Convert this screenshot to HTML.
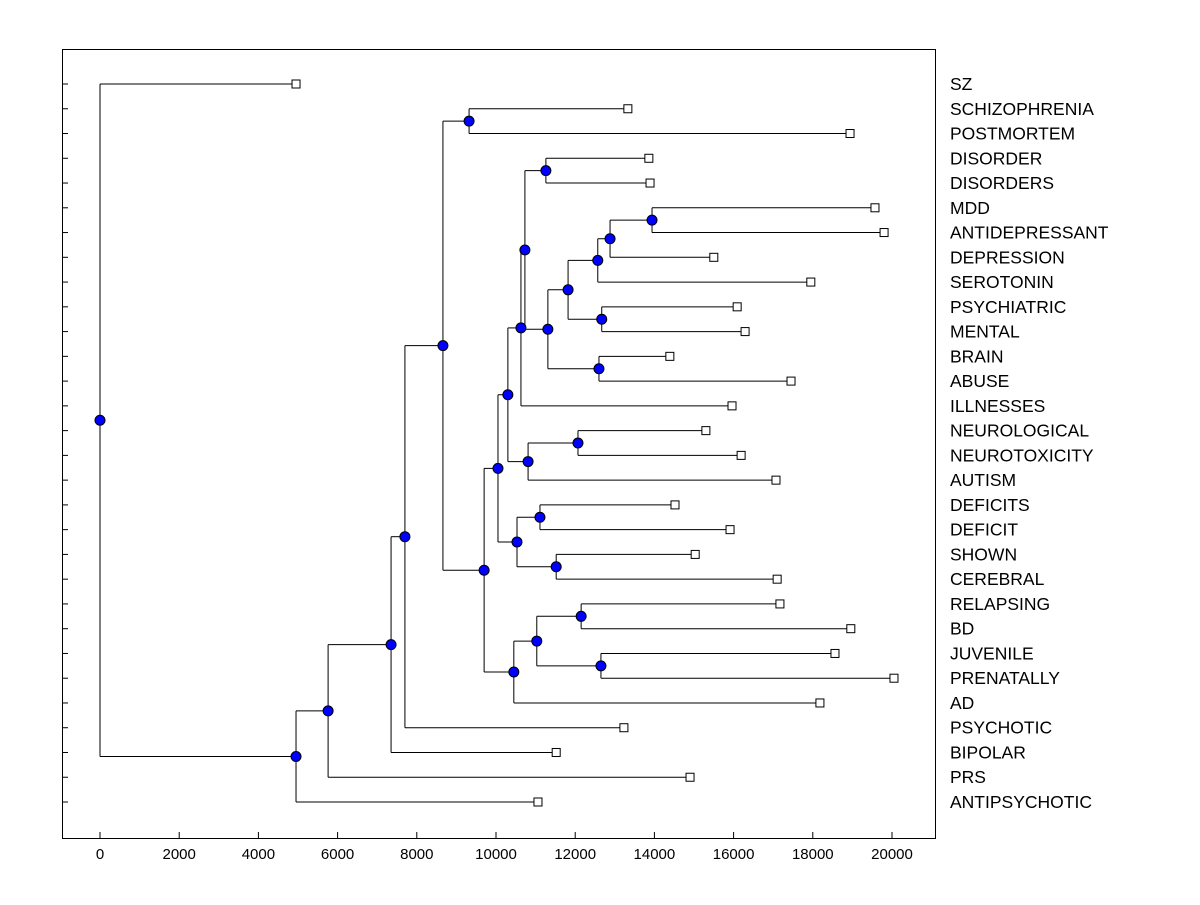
<!DOCTYPE html>
<html><head><meta charset="utf-8"><style>
body{margin:0;background:#fff}
svg text{font-family:"Liberation Sans",Arial,sans-serif}
</style></head><body>
<svg id="chart" width="1200" height="900" viewBox="0 0 1200 900" xmlns="http://www.w3.org/2000/svg">
<rect x="0" y="0" width="1200" height="900" fill="#fff"/>
<rect x="62.5" y="49.5" width="873" height="789" fill="none" stroke="#000"/>
<g id="g"></g>
</svg>
<script>
const leafNames=["SZ","SCHIZOPHRENIA","POSTMORTEM","DISORDER","DISORDERS","MDD","ANTIDEPRESSANT","DEPRESSION","SEROTONIN","PSYCHIATRIC","MENTAL","BRAIN","ABUSE","ILLNESSES","NEUROLOGICAL","NEUROTOXICITY","AUTISM","DEFICITS","DEFICIT","SHOWN","CEREBRAL","RELAPSING","BD","JUVENILE","PRENATALLY","AD","PSYCHOTIC","BIPOLAR","PRS","ANTIPSYCHOTIC"];
const leafValues=[4950,13330,18940,13860,13890,19570,19800,15500,17950,16090,16290,14390,17450,15960,15300,16190,17070,14520,15910,15030,17100,17170,18960,18560,20050,18180,13230,11520,14900,11060];
// merges: [name, childA, childB, height]
const mergeNames=["BB","AA","Y","Z","W","X","V","U","T","Q","S","R","M","O","P","N","H","K","L","J","I","G","F","E","D","C","B","A","root"];
const mergeA=["MDD","BB","AA","PSYCHIATRIC","Y","BRAIN","W","DISORDER","U","T","NEUROLOGICAL","S","Q","DEFICITS","SHOWN","O","M","RELAPSING","JUVENILE","K","AD","H","SCHIZOPHRENIA","F","PSYCHOTIC","BIPOLAR","PRS","ANTIPSYCHOTIC","SZ"];
const mergeB=["ANTIDEPRESSANT","DEPRESSION","SEROTONIN","MENTAL","Z","ABUSE","X","DISORDERS","V","ILLNESSES","NEUROTOXICITY","AUTISM","R","DEFICIT","CEREBRAL","P","N","BD","PRENATALLY","L","J","I","POSTMORTEM","G","E","D","C","B","A"];
const mergeHeights=[13940,12880,12570,12670,11820,12600,11310,11260,10730,10630,12070,10810,10300,11110,11520,10530,10050,12150,12650,11030,10450,9700,9320,8660,7700,7350,5760,4950,0];
const xTicks=[0,2000,4000,6000,8000,10000,12000,14000,16000,18000,20000];

const NS="http://www.w3.org/2000/svg";
const g=document.getElementById('g');
const xs=v=>100+v*0.0396;
const ys=i=>84+i*(718/(leafNames.length-1));
function el(t,a){const e=document.createElementNS(NS,t);for(const k in a)e.setAttribute(k,a[k]);g.appendChild(e);return e;}
const pos={};
leafNames.forEach((n,i)=>{pos[n]={x:xs(leafValues[i]),y:ys(i)};});
const lines=[],nodes=[];
mergeNames.forEach((n,i)=>{
  const a=pos[mergeA[i]],b=pos[mergeB[i]],x=xs(mergeHeights[i]);
  pos[n]={x:x,y:(a.y+b.y)/2};
  lines.push([x,a.y,a.x,a.y],[x,b.y,b.x,b.y],[x,a.y,x,b.y]);
  nodes.push(pos[n]);
});
lines.forEach(l=>{
  const e=el('line',{x1:l[0],y1:l[1],x2:l[2],y2:l[3],stroke:'#000','stroke-width':1});
  
  
});
leafNames.forEach((n,i)=>{
  const y=ys(i);
  const t=el('line',{x1:62,y1:y,x2:68,y2:y,stroke:'#000'});
  
  
  const r=el('rect',{x:pos[n].x-4,y:y-4,width:8,height:8,fill:'#fff',stroke:'#000'});
  
  
  const tx=el('text',{x:950,y:y+6,'font-size':17.5});
  tx.textContent=n;
  
  
});
nodes.forEach(p=>{
  const c=el('circle',{cx:p.x,cy:p.y,r:5,fill:'#0000ff',stroke:'#000','stroke-width':1});
  
  
});
xTicks.forEach(v=>{
  const x=xs(v);
  const t=el('line',{x1:x,y1:838,x2:x,y2:832,stroke:'#000'});
  
  
  const tx=el('text',{x:x,y:859,'font-size':15,'text-anchor':'middle'});
  tx.textContent=v;
  
  
});
</script>
</body></html>
